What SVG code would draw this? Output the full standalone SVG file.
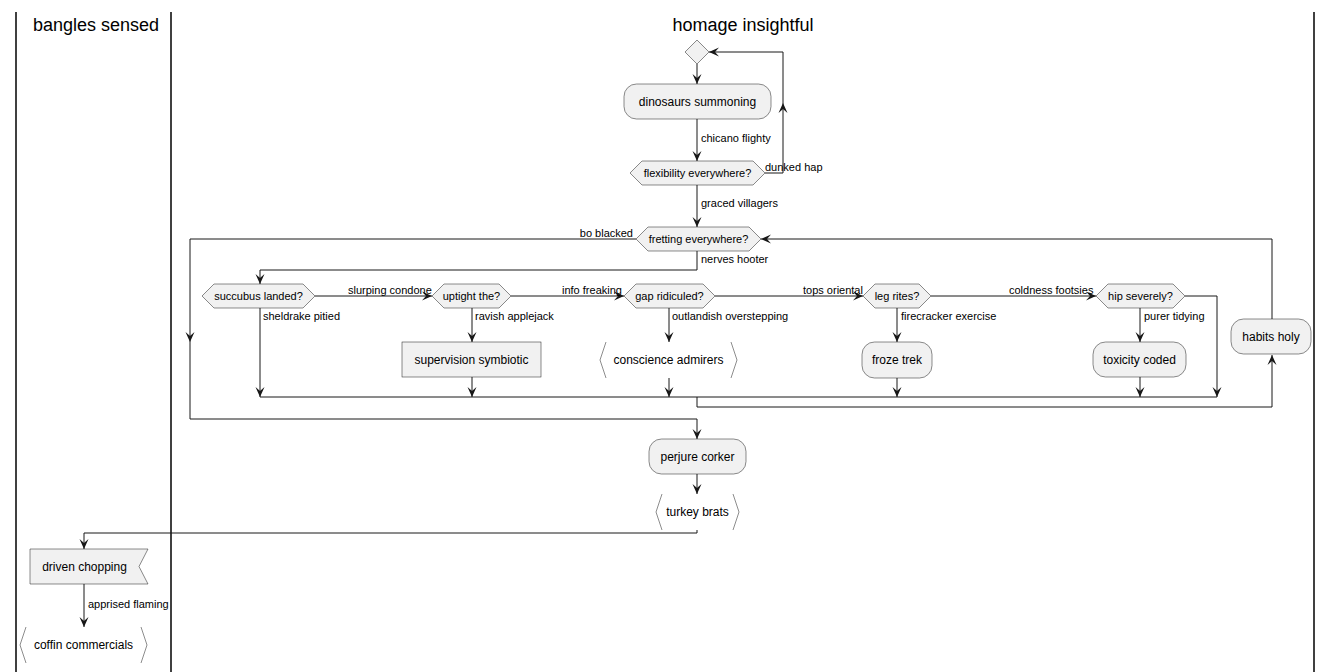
<svg xmlns="http://www.w3.org/2000/svg" width="1333" height="672" viewBox="0 0 1333 672">
<style>
.lane{stroke:#000;stroke-width:1.5;fill:none}
.title{font-family:"Liberation Sans",Arial,sans-serif;font-size:18px;fill:#000;text-anchor:middle}
.box{fill:#F1F1F1;stroke:#181818;stroke-width:0.5}
.br{fill:none;stroke:#181818;stroke-width:0.5}
.t12{font-family:"Liberation Sans",Arial,sans-serif;font-size:12px;fill:#000;text-anchor:middle}
.t11{font-family:"Liberation Sans",Arial,sans-serif;font-size:11px;fill:#000;text-anchor:middle}
.lbl{font-family:"Liberation Sans",Arial,sans-serif;font-size:11px;fill:#000}
.c{fill:none;stroke:#181818;stroke-width:1}
</style>
<defs>
<marker id="ah" viewBox="0 0 10 10" refX="10" refY="5" markerWidth="10" markerHeight="10" markerUnits="userSpaceOnUse" orient="auto">
<path d="M10,5 L0,0.5 L4,5 L0,9.5 Z" fill="#181818"/>
</marker>
</defs>
<rect width="1333" height="672" fill="#fff"/>
<g id="lanes">
<line class="lane" x1="16" y1="12" x2="16" y2="672"/>
<line class="lane" x1="171" y1="12" x2="171" y2="672"/>
<line class="lane" x1="1314" y1="12" x2="1314" y2="672"/>
<text class="title" x="96" y="31">bangles sensed</text>
<text class="title" x="743" y="31">homage insightful</text>
</g>
<g id="connectors">
<path class="c" d="M697,64 L697,84" marker-end="url(#ah)"/>
<path class="c" d="M697,119 L697,161" marker-end="url(#ah)"/>
<text class="lbl" x="701" y="142">chicano flighty</text>
<path class="c" d="M765,173 L783,173 L783,103" marker-end="url(#ah)"/>
<path class="c" d="M783,103 L783,52 L709,52" marker-end="url(#ah)"/>
<text class="lbl" x="765" y="171">dunked hap</text>
<path class="c" d="M697,185 L697,227" marker-end="url(#ah)"/>
<text class="lbl" x="701" y="207">graced villagers</text>
<path class="c" d="M636,239 L190,239 L190,342" marker-end="url(#ah)"/>
<path class="c" d="M190,342 L190,419 L697,419 L697,439" marker-end="url(#ah)"/>
<text class="lbl" x="633" y="237" text-anchor="end">bo blacked</text>
<path class="c" d="M697,251 L697,270 L260,270 L260,284" marker-end="url(#ah)"/>
<text class="lbl" x="701" y="263">nerves hooter</text>
<path class="c" d="M315,296 L432,296" marker-end="url(#ah)"/>
<text class="lbl" x="348" y="294">slurping condone</text>
<path class="c" d="M260,308 L260,397" marker-end="url(#ah)"/>
<text class="lbl" x="263" y="320">sheldrake pitied</text>
<path class="c" d="M472,308 L472,342" marker-end="url(#ah)"/>
<text class="lbl" x="475" y="320">ravish applejack</text>
<path class="c" d="M472,377 L472,397" marker-end="url(#ah)"/>
<path class="c" d="M511,296 L624,296" marker-end="url(#ah)"/>
<text class="lbl" x="562" y="294">info freaking</text>
<path class="c" d="M669,308 L669,342" marker-end="url(#ah)"/>
<text class="lbl" x="672" y="320">outlandish overstepping</text>
<path class="c" d="M669,378 L669,397" marker-end="url(#ah)"/>
<path class="c" d="M715,296 L863,296" marker-end="url(#ah)"/>
<text class="lbl" x="803" y="294">tops oriental</text>
<path class="c" d="M897,308 L897,342" marker-end="url(#ah)"/>
<text class="lbl" x="901" y="320">firecracker exercise</text>
<path class="c" d="M897,378 L897,397" marker-end="url(#ah)"/>
<path class="c" d="M931,296 L1096,296" marker-end="url(#ah)"/>
<text class="lbl" x="1009" y="294">coldness footsies</text>
<path class="c" d="M1140,308 L1140,342" marker-end="url(#ah)"/>
<text class="lbl" x="1144" y="320">purer tidying</text>
<path class="c" d="M1140,377 L1140,397" marker-end="url(#ah)"/>
<path class="c" d="M1185,296 L1217,296 L1217,397" marker-end="url(#ah)"/>
<path class="c" d="M260,397 L1217,397"/>
<path class="c" d="M697,397 L697,407 L1272,407 L1272,355" marker-end="url(#ah)"/>
<path class="c" d="M1272,319 L1272,239 L761,239" marker-end="url(#ah)"/>
<path class="c" d="M697,474 L697,494" marker-end="url(#ah)"/>
<path class="c" d="M697,530 L697,533 L84,533 L84,549" marker-end="url(#ah)"/>
<path class="c" d="M84,584 L84,627" marker-end="url(#ah)"/>
<text class="lbl" x="88" y="608">apprised flaming</text>
</g>
<g id="start">
<polygon class="box" points="697,40 709,52 697,64 685,52"/>
</g>
<g id="dinosaurs-summoning">
<rect class="box" x="624" y="84" width="147" height="35" rx="12.5"/>
<text class="t12" x="697.5" y="106">dinosaurs summoning</text>
</g>
<g id="flexibility-everywhere">
<polygon class="box" points="630,173 642,161 753,161 765,173 753,185 642,185"/>
<text class="t11" x="697.5" y="177">flexibility everywhere?</text>
</g>
<g id="fretting-everywhere">
<polygon class="box" points="636,239 648,227 749,227 761,239 749,251 648,251"/>
<text class="t11" x="698.5" y="243">fretting everywhere?</text>
</g>
<g id="succubus-landed">
<polygon class="box" points="202,296 214,284 303,284 315,296 303,308 214,308"/>
<text class="t11" x="258.5" y="300">succubus landed?</text>
</g>
<g id="uptight-the">
<polygon class="box" points="432,296 444,284 499,284 511,296 499,308 444,308"/>
<text class="t11" x="471.5" y="300">uptight the?</text>
</g>
<g id="gap-ridiculed">
<polygon class="box" points="624,296 636,284 703,284 715,296 703,308 636,308"/>
<text class="t11" x="669.5" y="300">gap ridiculed?</text>
</g>
<g id="leg-rites">
<polygon class="box" points="863,296 875,284 919,284 931,296 919,308 875,308"/>
<text class="t11" x="897" y="300">leg rites?</text>
</g>
<g id="hip-severely">
<polygon class="box" points="1096,296 1108,284 1173,284 1185,296 1173,308 1108,308"/>
<text class="t11" x="1140.5" y="300">hip severely?</text>
</g>
<g id="supervision-symbiotic">
<rect class="box" x="402" y="342" width="139" height="35"/>
<text class="t12" x="471.5" y="364">supervision symbiotic</text>
</g>
<g id="conscience-admirers">
<path class="br" d="M606,342 L600,360 L606,378 M731,342 L737,360 L731,378"/>
<text class="t12" x="668.5" y="364">conscience admirers</text>
</g>
<g id="froze-trek">
<rect class="box" x="862" y="342" width="70" height="36" rx="12.5"/>
<text class="t12" x="897" y="364">froze trek</text>
</g>
<g id="toxicity-coded">
<rect class="box" x="1093" y="342" width="93" height="35" rx="12.5"/>
<text class="t12" x="1139.5" y="364">toxicity coded</text>
</g>
<g id="habits-holy">
<rect class="box" x="1231" y="319" width="80" height="35" rx="12.5"/>
<text class="t12" x="1271" y="341">habits holy</text>
</g>
<g id="perjure-corker">
<rect class="box" x="649" y="439" width="97" height="35" rx="12.5"/>
<text class="t12" x="697.5" y="461">perjure corker</text>
</g>
<g id="turkey-brats">
<path class="br" d="M662,494 L656,512 L662,530 M733,494 L739,512 L733,530"/>
<text class="t12" x="697.5" y="516">turkey brats</text>
</g>
<g id="driven-chopping">
<polygon class="box" points="30,549 148,549 139,566.5 148,584 30,584"/>
<text class="t12" x="84.5" y="571">driven chopping</text>
</g>
<g id="coffin-commercials">
<path class="br" d="M26,627 L20,645 L26,663 M141,627 L147,645 L141,663"/>
<text class="t12" x="83.5" y="649">coffin commercials</text>
</g>
</svg>
